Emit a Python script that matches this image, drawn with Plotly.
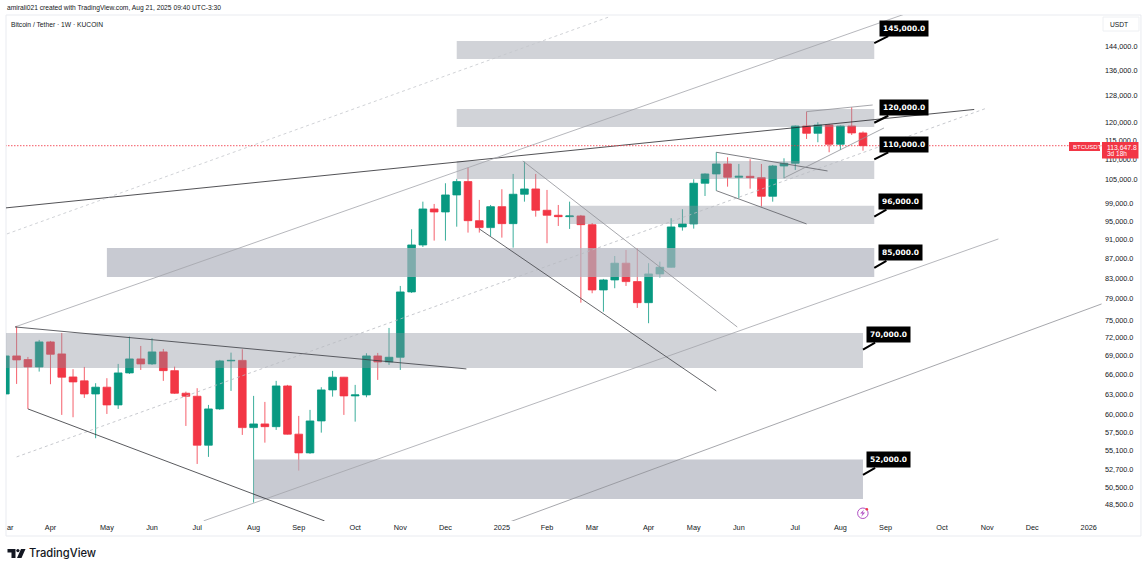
import math
import pandas as pd
import plotly.graph_objects as go

# weekly candles, BTC/USDT
weeks = pd.date_range("2024-03-04", periods=77, freq="7D")
opens = [63010, 68970, 68370, 67190, 71300, 69300, 65610, 65000, 63010, 64030, 61390,
         66240, 68480, 67670, 69630, 66600, 63120, 62670, 55790, 60810, 68160, 68240,
         58170, 58680, 58300, 64220, 57270, 54780, 59100, 63620, 65570, 62720, 62870,
         68970, 67990, 68750, 80290, 89770, 97780, 97090, 101090, 104340, 95100, 93540,
         98320, 94430, 101260, 102540, 97480, 96330, 96010, 96170, 94200, 80670, 82610,
         85960, 82280, 78270, 83800, 85140, 93690, 94360, 103940, 106260, 108810, 105430,
         105670, 105330, 100770, 108290, 108990, 119080, 117040, 119370, 114020, 119080,
         117130]
highs = [69630, 74060, 68800, 71640, 71470, 72840, 66830, 67190, 64640, 65410, 67670,
         72200, 70620, 71930, 70120, 67240, 63360, 63880, 61390, 68320, 69510, 70070,
         62720, 61830, 65000, 64380, 59810, 60670, 64030, 66560, 65610, 64380, 69410,
         69460, 73710, 81440, 93180, 99490, 98950, 103940, 105010, 107860, 99900, 98710,
         102470, 106260, 109410, 106260, 102300, 98710, 99490, 96400, 94570, 82810, 87450,
         88710, 89070, 85960, 86280, 95650, 97720, 104930, 106430, 111880, 110560, 108810,
         110040, 108810, 108550, 110290, 119230, 123210, 120140, 119660, 119230, 124500,
         117550]
lows = [62720, 64530, 60810, 66450, 64490, 59950, 59620, 62420, 56720, 60090, 60810,
        66080, 66710, 67510, 65000, 63010, 58400, 53360, 54260, 60670, 63470, 57170,
        48680, 56130, 57850, 57220, 52520, 54650, 57480, 62610, 59950, 59000, 62520,
        65150, 67510, 66710, 80100, 89340, 90700, 90700, 93750, 92440, 92440, 91700,
        91340, 89200, 99490, 96010, 90140, 93910, 93250, 78270, 80040, 76620, 81000,
        81440, 77300, 74540, 83060, 85050, 92880, 93320, 100840, 102130, 103100, 100300,
        102610, 98320, 99490, 105180, 107270, 115470, 114570, 111880, 112490, 116570,
        112300]
closes = [68970, 68320, 67190, 71300, 69240, 65570, 64840, 63010, 64030, 61390, 66240,
          68480, 67670, 69630, 66600, 63120, 62670, 55790, 60810, 68160, 68240, 58170,
          58680, 58300, 64220, 57270, 54780, 59100, 63620, 65570, 62720, 62870, 68970,
          67990, 68750, 80290, 89770, 97780, 97090, 101090, 104340, 95100, 93540, 98320,
          94430, 101260, 102540, 97480, 96330, 96010, 96170, 94200, 80670, 82610, 85960,
          82280, 78270, 83800, 85140, 93690, 94360, 103940, 106260, 108810, 105430, 105670,
          105330, 100770, 108290, 108990, 119080, 117040, 119370, 114020, 119080, 117130,
          113647.8]
last_price = 113647.8

# supply / demand boxes
zone_start = ["2024-12-09", "2024-12-09", "2024-12-09", "2025-02-17", "2024-05-06", "2024-03-01", "2024-08-05"]
zone_end = ["2025-08-25", "2025-08-25", "2025-08-25", "2025-08-25", "2025-08-25", "2025-08-18", "2025-08-18"]
zone_hi = [145720, 123997, 109594, 98550, 89133, 72840, 53914]
zone_lo = [139620, 118803, 105005, 94358, 83199, 67030, 49101]
zone_fill = ["rgba(140,146,158,0.4)", "rgba(140,146,158,0.4)", "rgba(140,146,158,0.4)",
             "rgba(140,146,158,0.4)", "rgba(176,179,191,0.7)", "rgba(140,146,158,0.4)",
             "rgba(176,179,191,0.7)"]

# callouts on each level
level_price = [145000, 120000, 110000, 96000, 85000, 70000, 52000]
level_x = ["2025-08-25", "2025-08-25", "2025-08-25", "2025-08-25", "2025-08-25", "2025-08-18", "2025-08-18"]

# trend lines: start date, end date, start price, end price
line_x0 = ["2024-03-04", "2024-03-10", "2024-03-05", "2024-03-11", "2024-07-05", "2025-01-11",
           "2024-03-10", "2024-03-18", "2025-01-19", "2024-12-23", "2025-05-19", "2025-05-19",
           "2025-07-14", "2025-06-30"]
line_x1 = ["2025-10-26", "2025-09-13", "2025-03-14", "2025-11-03", "2025-11-10", "2026-01-13",
           "2024-12-15", "2024-09-18", "2025-06-01", "2025-05-19", "2025-07-27", "2025-07-14",
           "2025-08-24", "2025-08-31"]
line_p0 = [98015, 73884, 92149, 54258, 46610, 46500, 73884, 60810, 109590, 93250, 111880, 102130,
           123210, 105250]
line_p1 = [123850, 155370, 154410, 124290, 91060, 78030, 66872, 46610, 73880, 63470, 107020, 94360,
           125170, 118520]
line_color = ["#26262b", "#a3a5ab", "#c4c6cc", "#b9bbc1", "#a3a5ab", "#8f9197",
              "#3a3b41", "#2f3035", "#8f9197", "#3f4045", "#5c5d63", "#5c5d63",
              "#8f9197", "#8f9197"]
line_dash = ["solid", "solid", "3px,3px", "3px,3px", "solid", "solid",
             "solid", "solid", "solid", "solid", "solid", "solid",
             "solid", "solid"]

price_ticks = [144000, 136000, 128000, 120000, 115000, 110000, 105000, 99000, 95000, 91000, 87000,
               83000, 79000, 75000, 72000, 69000, 66000, 63000, 60000, 57500, 55100, 52700, 50500, 48500]
month_ticks = ["2024-04-01", "2024-05-06", "2024-06-03", "2024-07-01", "2024-08-05",
               "2024-09-02", "2024-10-07", "2024-11-04", "2024-12-02", "2025-01-06", "2025-02-03",
               "2025-03-03", "2025-04-07", "2025-05-05", "2025-06-02", "2025-07-07", "2025-08-04",
               "2025-09-01", "2025-10-06", "2025-11-03", "2025-12-01", "2026-01-05"]
month_labels = ["Apr", "May", "Jun", "Jul", "Aug", "Sep", "Oct", "Nov", "Dec", "2025", "Feb",
                "Mar", "Apr", "May", "Jun", "Jul", "Aug", "Sep", "Oct", "Nov", "Dec", "2026"]

UP = "#089981"
DOWN = "#F23645"
TEXT = "#131722"
FONT = "Liberation Sans"

# pixel helpers for the page furniture outside the price pane
L, R, T, B = 5.5, 1104, 15, 521


def px(x):
    return (x - L) / (R - L)


def py(y):
    return (B - y) / (B - T)


fig = go.Figure()
fig.add_trace(go.Candlestick(x=weeks, open=opens, high=highs, low=lows, close=closes,
                             increasing=dict(line=dict(color=UP, width=0.8), fillcolor=UP),
                             decreasing=dict(line=dict(color=DOWN, width=0.8), fillcolor=DOWN),
                             hoverinfo="skip", showlegend=False))

for i in range(len(zone_hi)):
    fig.add_trace(go.Scatter(x=[zone_start[i], zone_end[i], zone_end[i], zone_start[i], zone_start[i]],
                             y=[zone_lo[i], zone_lo[i], zone_hi[i], zone_hi[i], zone_lo[i]],
                             mode="lines", line=dict(width=0), fill="toself", fillcolor=zone_fill[i],
                             hoverinfo="skip", showlegend=False))

for i in range(len(line_x0)):
    fig.add_trace(go.Scatter(x=[line_x0[i], line_x1[i]], y=[line_p0[i], line_p1[i]], mode="lines",
                             line=dict(color=line_color[i], width=0.8, dash=line_dash[i]),
                             hoverinfo="skip", showlegend=False))

fig.add_trace(go.Scatter(x=[weeks[0], "2026-01-14"], y=[last_price, last_price], mode="lines",
                         line=dict(color=DOWN, width=1.1, dash="1px,2px"),
                         hoverinfo="skip", showlegend=False))

# black level callouts, annotation y is log10 on a log axis
for i in range(len(level_price)):
    label = f"{level_price[i]:,.1f}"
    fig.add_annotation(x=level_x[i], y=math.log10(level_price[i]), text=f"<b>{label}</b>",
                       font=dict(family="DejaVu Sans", size=7.5, color="white"), bgcolor="black",
                       borderpad=3, showarrow=True, arrowhead=0, arrowwidth=2, arrowcolor="black",
                       ax=30 if level_price[i] > 99999 else 26, ay=-15, standoff=0)

shapes = [
    dict(type="rect", xref="paper", yref="paper", x0=0, x1=px(1141), y0=py(536), y1=1,
         line=dict(color="#E9EBF0", width=1), layer="below"),
    dict(type="rect", xref="paper", yref="paper", x0=px(1103), x1=px(1139), y0=py(31), y1=py(17),
         line=dict(color="#EEF0F3", width=1), layer="below"),
    dict(type="rect", xref="paper", yref="paper", x0=px(1069), x1=px(1100), y0=py(151), y1=py(142),
         fillcolor=DOWN, line=dict(width=0)),
    dict(type="rect", xref="paper", yref="paper", x0=px(1102), x1=px(1138.5), y0=py(158.5), y1=py(142),
         fillcolor=DOWN, line=dict(width=0)),
    # lightning marker under the last candle
    dict(type="circle", xref="paper", yref="paper", x0=px(857.5), x1=px(868), y0=py(518.5), y1=py(508),
         fillcolor="white", line=dict(color="#B14FC4", width=1)),
    dict(type="path", xref="paper", yref="paper", fillcolor="#B14FC4", line=dict(width=0),
         path=f"M {px(864)} {py(509.5)} L {px(860)} {py(513.5)} L {px(862.5)} {py(513.5)} "
              f"L {px(861)} {py(517)} L {px(865)} {py(512.5)} L {px(862.5)} {py(512.5)} Z"),
    dict(type="circle", xref="paper", yref="paper", x0=px(865.5), x1=px(868), y0=py(510.5), y1=py(508),
         fillcolor=DOWN, line=dict(width=0)),
    # TradingView mark
    dict(type="path", xref="paper", yref="paper", fillcolor=TEXT, line=dict(width=0),
         path=f"M {px(7)} {py(549)} L {px(15)} {py(549)} L {px(15)} {py(558)} L {px(11)} {py(558)} "
              f"L {px(11)} {py(552.5)} L {px(7)} {py(552.5)} Z"),
    dict(type="circle", xref="paper", yref="paper", x0=px(15.8), x1=px(19), y0=py(552.2), y1=py(549),
         fillcolor=TEXT, line=dict(width=0)),
    dict(type="path", xref="paper", yref="paper", fillcolor=TEXT, line=dict(width=0),
         path=f"M {px(20.5)} {py(549)} L {px(25)} {py(549)} L {px(21)} {py(558)} L {px(16.5)} {py(558)} Z"),
]

page_text = [
    ("amirali021 created with TradingView.com, Aug 21, 2025 09:40 UTC-3:30", 6, 8, 6.7, TEXT, FONT),
    ("Bitcoin / Tether · 1W · KUCOIN", 10, 24, 6.7, TEXT, FONT),
    ("USDT", 1109, 24, 6.7, TEXT, FONT),
    ("ar", 5.7, 527.5, 7.3, TEXT, FONT),
    ("BTCUSDT", 1071.5, 146.5, 6, "white", FONT),
    ("113,647.8", 1106.5, 147, 6.8, "white", FONT),
    ("3d 18h", 1106.5, 153.5, 6.5, "white", FONT),
]
for text, x, y, size, color, family in page_text:
    fig.add_annotation(xref="paper", yref="paper", x=px(x), y=py(y), text=text, showarrow=False,
                       xanchor="left", yanchor="middle", borderpad=0,
                       font=dict(family=family, size=size, color=color))

fig.add_annotation(xref="paper", yref="paper", x=px(28), y=py(553), text="TradingView", showarrow=False,
                   xanchor="left", yanchor="middle", borderpad=0,
                   font=dict(family="Inter", size=11.2, color=TEXT, weight=500))

fig.update_layout(
    width=1147, height=570, margin=dict(l=L, r=1147 - R, t=T, b=570 - B, autoexpand=False),
    paper_bgcolor="white", plot_bgcolor="white", showlegend=False, shapes=shapes,
    boxgap=0.18, boxgroupgap=0.17,
    font=dict(family=FONT, size=7.3, color=TEXT),
)
fig.update_xaxes(type="date", range=["2024-03-04 10:00", "2026-01-14 12:00"], rangeslider_visible=False,
                 tickmode="array", tickvals=month_ticks, ticktext=month_labels, showgrid=False,
                 zeroline=False, showline=False, ticks="", tickangle=0, ticklabelstandoff=1)
fig.update_yaxes(type="log", range=[4.668357, 5.190337], side="right",
                 tickmode="array", tickvals=price_ticks, ticktext=[f"{v:,.1f}" for v in price_ticks],
                 showgrid=False, zeroline=False, showline=False, ticks="")

fig.write_html("out.html", config={"displayModeBar": False},
               post_script="document.body.style.margin='0';")
